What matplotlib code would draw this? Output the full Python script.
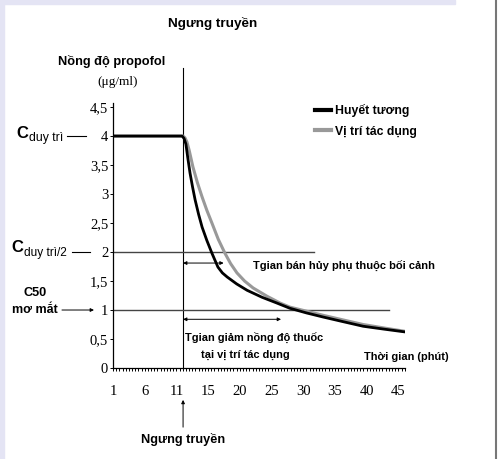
import matplotlib.pyplot as plt
from matplotlib.lines import Line2D
from matplotlib.patches import Rectangle

W, H = 498, 459

# x axis: evenly spaced slots labelled with minutes
x_labels = ["1", "6", "11", "15", "20", "25", "30", "35", "40", "45"]
y_ticks = [0, 0.5, 1, 1.5, 2, 2.5, 3, 3.5, 4, 4.5]
y_labels = ["0", "0,5", "1", "1,5", "2", "2,5", "3", "3,5", "4", "4,5"]

# curves, x in slot units (0 = "1", 9 = "45"), y in ug/ml
plasma_x = [0, 2.18, 2.24, 2.30, 2.36, 2.43, 2.51, 2.59, 2.70, 2.81, 2.96, 3.12,
            3.31, 3.45, 3.60, 3.90, 4.23, 4.70, 5.17, 5.58, 6.10, 6.62, 7.25,
            7.89, 8.55, 9.24]
plasma_y = [4.0, 4.0, 3.96, 3.86, 3.62, 3.36, 3.12, 2.90, 2.65, 2.43, 2.20, 1.98,
            1.74, 1.64, 1.57, 1.45, 1.34, 1.22, 1.12, 1.03, 0.95, 0.88, 0.80,
            0.72, 0.67, 0.62]
effect_x = [0, 2.21, 2.27, 2.33, 2.40, 2.52, 2.66, 2.81, 2.96, 3.12, 3.32, 3.53,
            3.71, 3.91, 4.15, 4.42, 4.85, 5.27, 5.58, 6.10, 6.62, 7.25, 7.89,
            8.55, 9.24]
effect_y = [4.0, 4.0, 3.97, 3.90, 3.76, 3.47, 3.20, 2.95, 2.72, 2.50, 2.22, 1.98,
            1.80, 1.64, 1.50, 1.38, 1.24, 1.12, 1.05, 0.98, 0.91, 0.83, 0.75,
            0.69, 0.63]

stop_x = 2.21          # infusion stopped
c_maint = 4
c_half = 2
c50_wake = 1
half_arrow = (stop_x, 3.49, 1.81)
decr_arrow = (stop_x, 5.30, 0.84)
half_line_end = 6.34
c50_line_end = 8.71

BOLD = ["Liberation Sans Narrow", "Liberation Sans", "DejaVu Sans"]
SERIF = ["Liberation Serif", "DejaVu Serif"]


def fx(x):
    return x / W


def fy(y):
    return 1 - y / H


def btext(x, y, s, size, ha="center", weight="bold"):
    fig.text(fx(x), fy(y), s, family=BOLD, weight=weight, fontsize=size,
             ha=ha, va="center")


fig = plt.figure(figsize=(W / 100, H / 100), dpi=100)
fig.patch.set_facecolor("white")

# faint frame like the source slide
fig.patches.append(Rectangle((0, fy(4)), fx(455), 4 / H, transform=fig.transFigure,
                             color="#e4e4f4", zorder=0))
fig.patches.append(Rectangle((0, 0), fx(4), 1, transform=fig.transFigure,
                             color="#e4e4f4", zorder=0))
fig.add_artist(Line2D([fx(496), fx(496)], [0, 1], color="#777777", lw=1.5))

ax = fig.add_axes([fx(113), 91 / H, (405 - 113) / W, (368 - 103) / H])
ax.set_xlim(0, 9.21)
ax.set_ylim(0, 4.57)
for s in ["top", "right"]:
    ax.spines[s].set_visible(False)
for s in ["left", "bottom"]:
    ax.spines[s].set_linewidth(0.9)

ax.set_xticks(range(len(x_labels)))
ax.set_xticklabels(x_labels, family=SERIF, fontsize=10.5)
ax.set_xticks([i / 10 for i in range(93)], minor=True)
ax.set_yticks(y_ticks)
ax.set_yticklabels(y_labels, family=SERIF, fontsize=10.5)
ax.tick_params(axis="x", which="both", direction="out", length=2.5, width=0.7, pad=10)
ax.tick_params(axis="y", direction="out", length=2.5, width=0.7, pad=1)

# reference lines
ax.plot([stop_x, stop_x], [0, 5.17], color="black", lw=0.8, clip_on=False)
ax.plot([0, half_line_end], [c_half, c_half], color="#444444", lw=1.0)
ax.plot([0, c50_line_end], [c50_wake, c50_wake], color="#444444", lw=1.0)

# curves
ax.plot(effect_x, effect_y, color="#999999", lw=2.2, solid_capstyle="butt")
ax.plot(plasma_x, plasma_y, color="black", lw=2.0, solid_capstyle="butt")

# double arrows
for x0, x1, yy in [half_arrow, decr_arrow]:
    ax.annotate("", xy=(x1, yy), xytext=(x0, yy),
                arrowprops=dict(arrowstyle="<|-|>", lw=0.7, color="black",
                                mutation_scale=5, shrinkA=0, shrinkB=0))

# legend
handles = [Line2D([], [], color="black", lw=3), Line2D([], [], color="#999999", lw=3)]
fig.legend(handles, ["Huyết tương", "Vị trí tác dụng"], loc="upper left",
           bbox_to_anchor=(fx(309), fy(98)), frameon=False, borderpad=0,
           handlelength=1.3, handletextpad=0.35, labelspacing=0.7,
           prop=dict(family=BOLD, weight="bold", size=8.8))

# titles and axis texts
btext(213, 23, "Ngưng truyền", 9.7)
btext(112, 62, "Nồng độ propofol", 9.2)
fig.text(fx(118), fy(82), "(μg/ml)", family=SERIF, fontsize=9.5, ha="center", va="center")
btext(406, 357, "Thời gian (phút)", 7.9)
btext(253, 266, "Tgian bán hủy phụ thuộc bối cảnh", 8.0, ha="left")
btext(254, 337, "Tgian giảm nồng độ thuốc", 7.9)
btext(245, 355, "tại vị trí tác dụng", 7.9)

# left side labels
btext(28, 134, "C", 12, ha="right")
btext(29, 138, "duy trì", 8.8, ha="left", weight="normal")
ax.plot([-1.45, -0.85], [c_maint, c_maint], color="black", lw=0.8, clip_on=False)

btext(23, 247, "C", 12, ha="right")
btext(24, 253, "duy trì/2", 8.6, ha="left", weight="normal")
ax.plot([-1.29, -0.73], [c_half, c_half], color="black", lw=0.8, clip_on=False)

btext(35, 293, "C50", 9.2)
btext(35, 310, "mơ mắt", 9.0)
ax.annotate("", xy=(-0.6, c50_wake), xytext=(-1.61, c50_wake), annotation_clip=False,
            arrowprops=dict(arrowstyle="-|>", lw=0.7, color="black",
                            mutation_scale=5, shrinkA=0, shrinkB=0))

# bottom marker for infusion stop
ax.annotate("", xy=(stop_x, -0.55), xytext=(stop_x, -1.02), annotation_clip=False,
            arrowprops=dict(arrowstyle="-|>", lw=0.7, color="black",
                            mutation_scale=5, shrinkA=0, shrinkB=0))
btext(183, 440, "Ngưng truyền", 9.2)

fig.savefig("out.png", dpi=100)
